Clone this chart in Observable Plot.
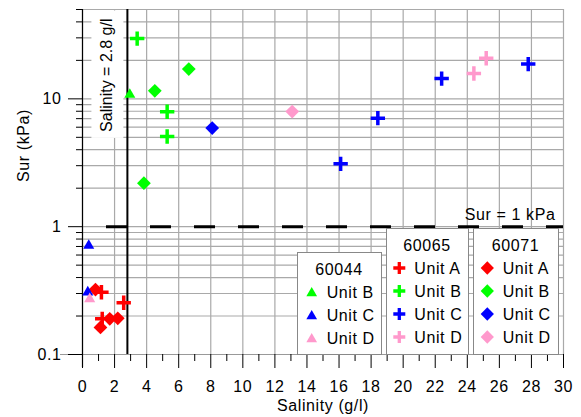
<!DOCTYPE html>
<html>
<head>
<meta charset="utf-8">
<script src="https://cdn.jsdelivr.net/npm/d3@7"></script>
<script src="https://cdn.jsdelivr.net/npm/@observablehq/plot@0.6"></script>
<style>
html, body { margin: 0; padding: 0; background: #fff; }
#chart { position: relative; width: 581px; height: 417px; }
#chart svg text { letter-spacing: 0.6px; }
#chart svg text.noSpacing { letter-spacing: 0; }
</style>
</head>
<body>
<div id="chart"></div>
<script>
// ---- categories & colours ----
const units = ["Unit A", "Unit B", "Unit C", "Unit D"];
const unitColors = ["#ff0000", "#00ff00", "#0000ff", "#ff99cc"];

// ---- borehole 60044 (triangles) ----
const unit60044 = ["Unit B", "Unit C", "Unit C", "Unit D"];
const sal60044  = [2.95, 0.39, 0.33, 0.45];
const sur60044  = [10.8, 0.711, 0.307, 0.272];

// ---- borehole 60065 (plus) ----
const unit60065 = ["Unit A", "Unit A", "Unit A", "Unit B", "Unit B", "Unit B", "Unit C", "Unit C", "Unit C", "Unit C", "Unit D", "Unit D"];
const sal60065  = [1.18, 2.57, 1.23, 3.41, 5.28, 5.28, 16.1, 18.42, 22.4, 27.8, 24.41, 25.18];
const sur60065  = [0.307, 0.254, 0.190, 29.6, 7.92, 5.08, 3.1, 7.06, 14.4, 18.7, 15.8, 20.8];

// ---- borehole 60071 (diamonds) ----
const unit60071 = ["Unit A", "Unit A", "Unit A", "Unit A", "Unit B", "Unit B", "Unit B", "Unit C", "Unit D"];
const sal60071  = [0.81, 1.7, 2.2, 1.12, 6.63, 4.51, 3.83, 8.09, 13.08];
const sur60071  = [0.322, 0.190, 0.192, 0.163, 17.1, 11.55, 2.19, 5.91, 7.96];

// ---- reference lines ----
const salinityLimit = 2.8;
const surLimit = 1;
const salinityLabel = "Salinity = 2.8 g/l";
const surLabel = "Sur = 1 kPa";

// ---- ticks ----
const xTickLabels = [0, 2, 4, 6, 8, 10, 12, 14, 16, 18, 20, 22, 24, 26, 28, 30];
const xMinorTicks = [1, 3, 5, 7, 9, 11, 13, 15, 17, 19, 21, 23, 25, 27, 29];
const yTickLabels = [0.1, 1, 10];
const yMinorTicks = [0.2, 0.3, 0.4, 0.5, 0.6, 0.7, 0.8, 0.9, 2, 3, 4, 5, 6, 7, 8, 9, 20, 30, 40, 50];
const yGridTicks = [...yTickLabels, ...yMinorTicks];

// ---- legend ----
const legendGroups = ["60044", "60065", "60071"];
const legendSymbols = ["triangle", "plus", "diamond"];
const legendUnits = [["Unit B", "Unit C", "Unit D"], units, units];

const rows = (u, s, v) => u.map((d, i) => ({unit: d, salinity: s[i], sur: v[i]}));
const data60044 = rows(unit60044, sal60044, sur60044);
const data60065 = rows(unit60065, sal60065, sur60065);
const data60071 = rows(unit60071, sal60071, sur60071);

const gridStyle = {stroke: "#a9a9a9", strokeOpacity: 1, strokeWidth: 1.2};

const plot = Plot.plot({
  width: 581,
  height: 417,
  marginLeft: 82,
  marginRight: 18,
  marginTop: 9,
  marginBottom: 63,
  style: {fontFamily: "'Liberation Sans', Arial, sans-serif", fontSize: "16px", background: "white", color: "black", overflow: "visible"},
  x: {domain: [0, 30], label: null},
  y: {type: "log", domain: [0.1, 50], label: null},
  color: {domain: units, range: unitColors},
  marks: [
    Plot.gridX(xTickLabels, gridStyle),
    Plot.gridY(yGridTicks, gridStyle),
    Plot.text([salinityLabel], {x: () => salinityLimit, frameAnchor: "top", text: d => d, rotate: -90, textAnchor: "end", lineAnchor: "bottom", dx: -15, dy: 9}),
    Plot.ruleX([salinityLimit], {stroke: "black", strokeWidth: 2}),
    Plot.ruleY([surLimit], {stroke: "black", strokeWidth: 3, strokeDasharray: "21,23", strokeDashoffset: 20}),
    Plot.text([surLabel], {y: () => surLimit, frameAnchor: "right", text: d => d, textAnchor: "end", lineAnchor: "bottom", dx: -8, dy: -7}),
    Plot.ruleY([0.1], {stroke: "#999", strokeWidth: 1.2, insetLeft: -22}),
    Plot.ruleX([0], {stroke: "black", strokeWidth: 1.2, insetBottom: -13}),
    Plot.axisX(xMinorTicks, {tickSize: 7, tickFormat: () => "", stroke: "black"}),
    Plot.axisX(xTickLabels, {tickSize: 14, tickPadding: 12, tickFormat: d => String(d), stroke: "black"}),
    Plot.axisY(yMinorTicks, {tickSize: 6, tickFormat: () => "", stroke: "black"}),
    Plot.axisY(yTickLabels, {tickSize: 14, tickPadding: 7, tickFormat: d3.format("~g"), stroke: "black"}),
    Plot.text(["Salinity (g/l)"], {frameAnchor: "bottom", text: d => d, dy: 56, lineAnchor: "bottom"}),
    Plot.text(["Sur (kPa)"], {frameAnchor: "left", text: d => d, dx: -54, rotate: -90, lineAnchor: "bottom"}),
    Plot.dot(data60071, {x: "salinity", y: "sur", fill: "unit", stroke: "none", symbol: "diamond2", r: 6.2}),
    Plot.dot(data60065, {x: "salinity", y: "sur", stroke: "unit", fill: "none", symbol: "plus", r: 4.7, strokeWidth: 3.5}),
    Plot.dot(data60044, {x: "salinity", y: "sur", fill: "unit", stroke: "none", symbol: "triangle", r: 4.1})
  ]
});

document.getElementById("chart").append(plot);

// white background behind the rotated annotation
const svgNS = "http://www.w3.org/2000/svg";
const ann = Array.from(plot.querySelectorAll("text")).find(e => e.textContent === salinityLabel);
if (ann) {
  ann.classList.add("noSpacing");
  const bb = ann.getBBox();
  const r = document.createElementNS(svgNS, "rect");
  r.setAttribute("x", bb.x - 6);
  r.setAttribute("y", bb.y - 7);
  r.setAttribute("width", bb.width + 14);
  r.setAttribute("height", bb.height + 15);
  r.setAttribute("fill", "white");
  const tr = ann.getAttribute("transform");
  if (tr) r.setAttribute("transform", tr);
  ann.parentNode.insertBefore(r, ann);
}

// legends
const color = plot.scale("color");
const colorOf = u => unitColors[color.domain.indexOf(u)];
const legendBoxes = [
  {x: 297, y: 252, w: 84, h: 102, sx: 14.7, tx: 29.7},
  {x: 386, y: 228, w: 82, h: 126, sx: 13.3, tx: 28.3},
  {x: 473, y: 228, w: 85, h: 126, sx: 14.3, tx: 29.7}
];
const symbolPaths = {
  triangle: d3.symbol(d3.symbolTriangle, 50)(),
  plus: d3.symbol(d3.symbolPlus, 49)(),
  diamond: d3.symbol(d3.symbolDiamond2, 112)()
};
const svg = d3.select(plot);
legendGroups.forEach((name, gi) => {
  const b = legendBoxes[gi];
  const g = svg.append("g");
  g.append("rect").attr("x", b.x + 0.5).attr("y", b.y + 0.5).attr("width", b.w).attr("height", b.h)
    .attr("fill", "white").attr("stroke", "#888").attr("stroke-width", 1);
  const base = b.y + 22.5;
  g.append("text").attr("x", b.x + b.w / 2).attr("y", base).attr("text-anchor", "middle").text(name);
  legendUnits[gi].forEach((u, i) => {
    const by = base + 23 * (i + 1);
    const sym = legendSymbols[gi];
    const c = colorOf(u);
    const p = g.append("path").attr("d", symbolPaths[sym])
      .attr("transform", `translate(${b.x + b.sx},${by - (sym === "triangle" ? 4.3 : 5.5)})`);
    if (sym === "plus") p.attr("fill", "none").attr("stroke", c).attr("stroke-width", 3.3);
    else p.attr("fill", c);
    g.append("text").attr("x", b.x + b.tx).attr("y", by).attr("text-anchor", "start").text(u);
  });
});
</script>
</body>
</html>
